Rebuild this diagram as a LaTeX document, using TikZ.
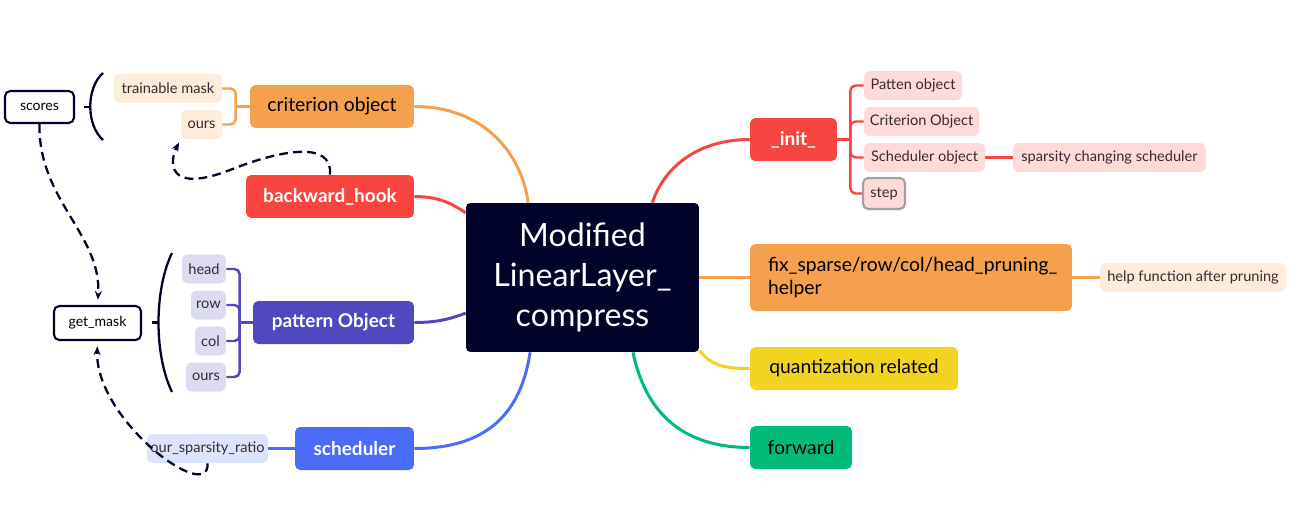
\documentclass[tikz,border=0pt]{standalone}
\usepackage{fontspec}
\setmainfont{Lato}
\usetikzlibrary{arrows.meta,backgrounds}
\definecolor{navy}{HTML}{01032A}
\definecolor{orangeA}{HTML}{F5A04D}
\definecolor{redA}{HTML}{F9453F}
\definecolor{purpleA}{HTML}{4F48BE}
\definecolor{blueA}{HTML}{4A6CF7}
\definecolor{yellowA}{HTML}{F1D320}
\definecolor{greenA}{HTML}{00BB77}
\definecolor{orangeL}{HTML}{FDEBDB}
\definecolor{purpleL}{HTML}{DCDCF1}
\definecolor{blueL}{HTML}{DDE3FC}
\definecolor{redL}{HTML}{FFDAD8}
\definecolor{stepgray}{HTML}{A0A0A0}
\definecolor{subtext}{HTML}{3A2A30}

\begin{document}
\begin{tikzpicture}[x=0.02cm, y=-0.02cm,
    topic/.style={rounded corners=3pt, inner sep=0pt, minimum height=0.86cm, font=\fontsize{11}{13}\selectfont},
    light/.style={text=white, font=\fontsize{10.8}{13}\selectfont\bfseries},
    sub/.style={rounded corners=3pt, inner sep=0pt, minimum height=0.58cm, text=subtext, font=\fontsize{8.3}{10}\selectfont},
    plainbox/.style={draw=navy, fill=white, line width=1.2pt, rounded corners=3pt, inner sep=0pt, minimum height=0.64cm, font=\fontsize{8}{10}\selectfont},
    branch/.style={line width=1.7pt},
    twig/.style={line width=1.4pt, rounded corners=3pt},
    link/.style={navy, line width=1.3pt, dash pattern=on 5pt off 3pt, -{Stealth[length=5pt,width=4pt]}},
    parenline/.style={navy, line width=1.3pt}]
    \useasboundingbox (0,0) rectangle (1299,521);

    \node[topic, fill=navy, text=white, minimum width=4.66cm, minimum height=2.98cm, rounded corners=2.5pt, align=center, font=\fontsize{18.3}{22.7}\selectfont] (centre) at (582.5,277.5) {Modified\\LinearLayer\_\\compress};

    \node[topic, fill=orangeA, minimum width=3.28cm] (crit) at (332,106.5) {criterion object};
    \node[topic, fill=redA, light, minimum width=3.36cm] (bhook) at (330,196.5) {backward\_hook};
    \node[topic, fill=purpleA, light, minimum width=3.22cm] (patt) at (333.5,322.5) {pattern Object};
    \node[topic, fill=blueA, light, minimum width=2.38cm] (sched) at (354.5,448.5) {scheduler};

    \node[topic, fill=redA, light, minimum width=1.74cm] (init) at (793.5,139.5) {\_init\_};
    \node[topic, fill=orangeA, minimum width=6.44cm, minimum height=1.34cm, align=left, text width=5.72cm] (fixh) at (911,277.5) {fix\_sparse/row/col/head\_pruning\_\\helper};
    \node[topic, fill=yellowA, minimum width=4.16cm] (quant) at (854,368.5) {quantization related};
    \node[topic, fill=greenA, minimum width=2.04cm] (fwd) at (801,447.5) {forward};

    \node[sub, fill=orangeL, minimum width=2.16cm] (tmask) at (168,88.5) {trainable mask};
    \node[sub, fill=orangeL, minimum width=0.82cm] (oursc) at (201.5,124.5) {ours};
    \node[sub, fill=purpleL, minimum width=0.88cm] (head) at (204,269) {head};
    \node[sub, fill=purpleL, minimum width=0.7cm] (row) at (208.5,305) {row};
    \node[sub, fill=purpleL, minimum width=0.62cm] (col) at (210.5,341) {col};
    \node[sub, fill=purpleL, minimum width=0.8cm] (oursp) at (206,377) {ours};
    \node[sub, fill=blueL, minimum width=2.42cm] (ratio) at (207.5,448.5) {our\_sparsity\_ratio};

    \node[sub, fill=redL, minimum width=1.96cm] (pobj) at (913,85.5) {Patten object};
    \node[sub, fill=redL, minimum width=2.3cm] (cobj) at (921.5,121.5) {Criterion Object};
    \node[sub, fill=redL, minimum width=2.42cm] (sobj) at (924.5,157.5) {Scheduler object};
    \node[sub, fill=redL, draw=stepgray, line width=1.2pt, minimum width=0.84cm, minimum height=0.62cm] (stepn) at (884,193.5) {step};
    \node[sub, fill=redL, minimum width=3.86cm] (spch) at (1109.5,157.5) {sparsity changing scheduler};
    \node[sub, fill=orangeL, minimum width=3.72cm] (helpf) at (1193,277.5) {help function after pruning};

    \node[plainbox, minimum width=1.38cm] (scores) at (39.5,107) {scores};
    \node[plainbox, minimum width=1.74cm, minimum height=0.68cm] (getmask) at (97.5,323) {get\_mask};

    \coordinate (critfork) at ([xshift=-0.28cm]crit.west);
    \coordinate (pattfork) at ([xshift=-0.26cm]patt.west);
    \coordinate (initfork) at ([xshift=0.26cm]init.east);

    \begin{scope}[on background layer]
        \draw[branch, orangeA] (crit.east) .. controls (485,106.5) and (522,155) .. (centre.126);
        \draw[branch, redA] (bhook.east) .. controls (440,196.5) and (452,204) .. (centre.151);
        \draw[branch, purpleA] (patt.east) .. controls (440,322.5) and (452,318) .. (centre.197);
        \draw[branch, blueA] (sched.east) .. controls (495,448.5) and (522,405) .. (centre.235);
        \draw[branch, redA] (centre.47) .. controls (665,165) and (700,139.5) .. (init.west);
        \draw[branch, orangeA] (centre.east |- fixh.west) -- (fixh.west);
        \draw[branch, yellowA] (centre.-32) .. controls (712,366) and (725,368.5) .. (quant.west);
        \draw[branch, greenA] (centre.-56) .. controls (645,410) and (680,447.5) .. (fwd.west);

        \draw[twig, orangeA] (crit.west) -- (critfork);
        \draw[twig, orangeA] (critfork) |- (tmask.east);
        \draw[twig, orangeA] (critfork) |- (oursc.east);
        \draw[twig, purpleA] (patt.west) -- (pattfork);
        \draw[twig, purpleA] (pattfork) |- (head.east);
        \draw[twig, purpleA] (pattfork) |- (row.east);
        \draw[twig, purpleA] (pattfork) |- (col.east);
        \draw[twig, purpleA] (pattfork) |- (oursp.east);
        \draw[twig, redA] (init.east) -- (initfork);
        \draw[twig, redA] (initfork) |- (pobj.west);
        \draw[twig, redA] (initfork) |- (cobj.west);
        \draw[twig, redA] (initfork) |- (sobj.west);
        \draw[twig, redA] (initfork) |- (stepn.west);
        \draw[twig, redA] (sobj.east) -- (spch.west);
        \draw[twig, orangeA] (fixh.east) -- (helpf.west);
        \draw[twig, blueA] (ratio.east) -- (sched.west);
    \end{scope}

    \draw[parenline] (103,73) .. controls (86,88) and (86,125) .. (103,140);
    \draw[parenline] (84,107) -- (90,107);
    \draw[parenline] (172,253) .. controls (154,290) and (154,355) .. (172,392);
    \draw[parenline] (152,322.5) -- (157.5,322.5);

    \draw[link, shorten >=3pt] (scores.south) .. controls (38,200) and (102,235) .. (getmask.north);
    \draw[link, shorten >=3pt] (ratio.south) .. controls (210,505) and (95,420) .. (getmask.south);
    \draw[link, shorten >=2pt] (bhook.north) .. controls (333,140) and (280,150) .. (230,170) .. controls (165,195) and (170,160) .. (oursc.south west);
\end{tikzpicture}
\end{document}
